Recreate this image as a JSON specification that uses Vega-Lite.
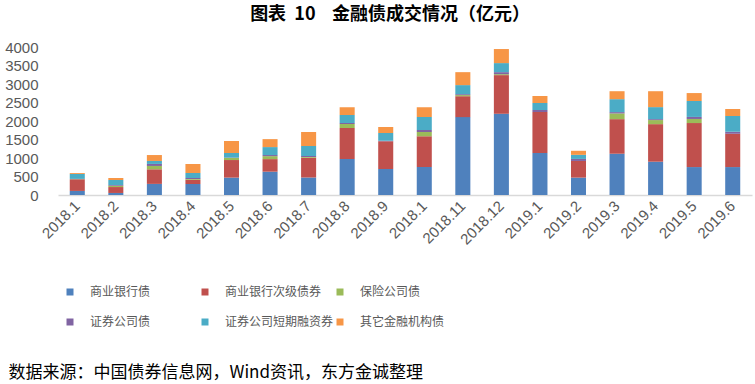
{
  "$schema": "https://vega.github.io/schema/vega-lite/v6.json",
  "autosize": "none",
  "width": 694,
  "height": 148,
  "padding": {"left": 58, "top": 47, "right": 3, "bottom": 189},
  "background": "white",
  "title": {
    "text": "图表\u00a0\u00a010\u00a0\u00a0\u00a0\u00a0金融债成交情况（亿元）",
    "anchor": "middle",
    "frame": "group",
    "dx": -15,
    "offset": 16,
    "font": "Noto Sans CJK SC",
    "fontSize": 18,
    "fontWeight": "bold",
    "color": "#000000"
  },
  "config": {
    "view": {"stroke": null},
    "font": "Noto Sans CJK SC"
  },
  "datasets": {
    "rows": [
      {"month": "2018.1", "series": "商业银行债", "k": 1, "value": 110},
      {"month": "2018.1", "series": "商业银行次级债券", "k": 2, "value": 315},
      {"month": "2018.1", "series": "保险公司债", "k": 3, "value": 5},
      {"month": "2018.1", "series": "证券公司债", "k": 4, "value": 5},
      {"month": "2018.1", "series": "证券公司短期融资券", "k": 5, "value": 135},
      {"month": "2018.1", "series": "其它金融机构债", "k": 6, "value": 25},

      {"month": "2018.2", "series": "商业银行债", "k": 1, "value": 55},
      {"month": "2018.2", "series": "商业银行次级债券", "k": 2, "value": 160},
      {"month": "2018.2", "series": "保险公司债", "k": 3, "value": 35},
      {"month": "2018.2", "series": "证券公司债", "k": 4, "value": 20},
      {"month": "2018.2", "series": "证券公司短期融资券", "k": 5, "value": 135},
      {"month": "2018.2", "series": "其它金融机构债", "k": 6, "value": 55},

      {"month": "2018.3", "series": "商业银行债", "k": 1, "value": 300},
      {"month": "2018.3", "series": "商业银行次级债券", "k": 2, "value": 395},
      {"month": "2018.3", "series": "保险公司债", "k": 3, "value": 90},
      {"month": "2018.3", "series": "证券公司债", "k": 4, "value": 55},
      {"month": "2018.3", "series": "证券公司短期融资券", "k": 5, "value": 80},
      {"month": "2018.3", "series": "其它金融机构债", "k": 6, "value": 160},

      {"month": "2018.4", "series": "商业银行债", "k": 1, "value": 300},
      {"month": "2018.4", "series": "商业银行次级债券", "k": 2, "value": 110},
      {"month": "2018.4", "series": "保险公司债", "k": 3, "value": 25},
      {"month": "2018.4", "series": "证券公司债", "k": 4, "value": 25},
      {"month": "2018.4", "series": "证券公司短期融资券", "k": 5, "value": 135},
      {"month": "2018.4", "series": "其它金融机构债", "k": 6, "value": 245},

      {"month": "2018.5", "series": "商业银行债", "k": 1, "value": 470},
      {"month": "2018.5", "series": "商业银行次级债券", "k": 2, "value": 475},
      {"month": "2018.5", "series": "保险公司债", "k": 3, "value": 55},
      {"month": "2018.5", "series": "证券公司债", "k": 4, "value": 10},
      {"month": "2018.5", "series": "证券公司短期融资券", "k": 5, "value": 125},
      {"month": "2018.5", "series": "其它金融机构债", "k": 6, "value": 325},

      {"month": "2018.6", "series": "商业银行债", "k": 1, "value": 630},
      {"month": "2018.6", "series": "商业银行次级债券", "k": 2, "value": 340},
      {"month": "2018.6", "series": "保险公司债", "k": 3, "value": 80},
      {"month": "2018.6", "series": "证券公司债", "k": 4, "value": 30},
      {"month": "2018.6", "series": "证券公司短期融资券", "k": 5, "value": 215},
      {"month": "2018.6", "series": "其它金融机构债", "k": 6, "value": 215},

      {"month": "2018.7", "series": "商业银行债", "k": 1, "value": 470},
      {"month": "2018.7", "series": "商业银行次级债券", "k": 2, "value": 540},
      {"month": "2018.7", "series": "保险公司债", "k": 3, "value": 20},
      {"month": "2018.7", "series": "证券公司债", "k": 4, "value": 25},
      {"month": "2018.7", "series": "证券公司短期融资券", "k": 5, "value": 270},
      {"month": "2018.7", "series": "其它金融机构债", "k": 6, "value": 380},

      {"month": "2018.8", "series": "商业银行债", "k": 1, "value": 970},
      {"month": "2018.8", "series": "商业银行次级债券", "k": 2, "value": 840},
      {"month": "2018.8", "series": "保险公司债", "k": 3, "value": 110},
      {"month": "2018.8", "series": "证券公司债", "k": 4, "value": 25},
      {"month": "2018.8", "series": "证券公司短期融资券", "k": 5, "value": 215},
      {"month": "2018.8", "series": "其它金融机构债", "k": 6, "value": 215},

      {"month": "2018.9", "series": "商业银行债", "k": 1, "value": 700},
      {"month": "2018.9", "series": "商业银行次级债券", "k": 2, "value": 750},
      {"month": "2018.9", "series": "保险公司债", "k": 3, "value": 5},
      {"month": "2018.9", "series": "证券公司债", "k": 4, "value": 10},
      {"month": "2018.9", "series": "证券公司短期融资券", "k": 5, "value": 210},
      {"month": "2018.9", "series": "其它金融机构债", "k": 6, "value": 165},

      {"month": "2018.10", "series": "商业银行债", "k": 1, "value": 755},
      {"month": "2018.10", "series": "商业银行次级债券", "k": 2, "value": 835},
      {"month": "2018.10", "series": "保险公司债", "k": 3, "value": 110},
      {"month": "2018.10", "series": "证券公司债", "k": 4, "value": 55},
      {"month": "2018.10", "series": "证券公司短期融资券", "k": 5, "value": 350},
      {"month": "2018.10", "series": "其它金融机构债", "k": 6, "value": 270},

      {"month": "2018.11", "series": "商业银行债", "k": 1, "value": 2105},
      {"month": "2018.11", "series": "商业银行次级债券", "k": 2, "value": 565},
      {"month": "2018.11", "series": "保险公司债", "k": 3, "value": 30},
      {"month": "2018.11", "series": "证券公司债", "k": 4, "value": 25},
      {"month": "2018.11", "series": "证券公司短期融资券", "k": 5, "value": 245},
      {"month": "2018.11", "series": "其它金融机构债", "k": 6, "value": 350},

      {"month": "2018.12", "series": "商业银行债", "k": 1, "value": 2195},
      {"month": "2018.12", "series": "商业银行次级债券", "k": 2, "value": 1045},
      {"month": "2018.12", "series": "保险公司债", "k": 3, "value": 25},
      {"month": "2018.12", "series": "证券公司债", "k": 4, "value": 55},
      {"month": "2018.12", "series": "证券公司短期融资券", "k": 5, "value": 245},
      {"month": "2018.12", "series": "其它金融机构债", "k": 6, "value": 380},

      {"month": "2019.1", "series": "商业银行债", "k": 1, "value": 1135},
      {"month": "2019.1", "series": "商业银行次级债券", "k": 2, "value": 1105},
      {"month": "2019.1", "series": "保险公司债", "k": 3, "value": 0},
      {"month": "2019.1", "series": "证券公司债", "k": 4, "value": 55},
      {"month": "2019.1", "series": "证券公司短期融资券", "k": 5, "value": 190},
      {"month": "2019.1", "series": "其它金融机构债", "k": 6, "value": 190},

      {"month": "2019.2", "series": "商业银行债", "k": 1, "value": 470},
      {"month": "2019.2", "series": "商业银行次级债券", "k": 2, "value": 450},
      {"month": "2019.2", "series": "保险公司债", "k": 3, "value": 0},
      {"month": "2019.2", "series": "证券公司债", "k": 4, "value": 55},
      {"month": "2019.2", "series": "证券公司短期融资券", "k": 5, "value": 110},
      {"month": "2019.2", "series": "其它金融机构债", "k": 6, "value": 110},

      {"month": "2019.3", "series": "商业银行债", "k": 1, "value": 1115},
      {"month": "2019.3", "series": "商业银行次级债券", "k": 2, "value": 935},
      {"month": "2019.3", "series": "保险公司债", "k": 3, "value": 155},
      {"month": "2019.3", "series": "证券公司债", "k": 4, "value": 35},
      {"month": "2019.3", "series": "证券公司短期融资券", "k": 5, "value": 350},
      {"month": "2019.3", "series": "其它金融机构债", "k": 6, "value": 215},

      {"month": "2019.4", "series": "商业银行债", "k": 1, "value": 900},
      {"month": "2019.4", "series": "商业银行次级债券", "k": 2, "value": 1015},
      {"month": "2019.4", "series": "保险公司债", "k": 3, "value": 110},
      {"month": "2019.4", "series": "证券公司债", "k": 4, "value": 25},
      {"month": "2019.4", "series": "证券公司短期融资券", "k": 5, "value": 325},
      {"month": "2019.4", "series": "其它金融机构债", "k": 6, "value": 430},

      {"month": "2019.5", "series": "商业银行债", "k": 1, "value": 755},
      {"month": "2019.5", "series": "商业银行次级债券", "k": 2, "value": 1190},
      {"month": "2019.5", "series": "保险公司债", "k": 3, "value": 110},
      {"month": "2019.5", "series": "证券公司债", "k": 4, "value": 55},
      {"month": "2019.5", "series": "证券公司短期融资券", "k": 5, "value": 430},
      {"month": "2019.5", "series": "其它金融机构债", "k": 6, "value": 215},

      {"month": "2019.6", "series": "商业银行债", "k": 1, "value": 755},
      {"month": "2019.6", "series": "商业银行次级债券", "k": 2, "value": 900},
      {"month": "2019.6", "series": "保险公司债", "k": 3, "value": 0},
      {"month": "2019.6", "series": "证券公司债", "k": 4, "value": 55},
      {"month": "2019.6", "series": "证券公司短期融资券", "k": 5, "value": 425},
      {"month": "2019.6", "series": "其它金融机构债", "k": 6, "value": 190}
    ]
  },
  "data": {"name": "rows"},
  "mark": {"type": "bar"},
  "encoding": {
    "x": {
      "field": "month",
      "type": "ordinal",
      "sort": null,
      "scale": {"paddingInner": 0.61, "paddingOuter": 0.305},
      "axis": {
        "title": "数据来源：中国债券信息网，Wind资讯，东方金诚整理",
        "titleFont": "Noto Sans CJK SC",
        "titleFontSize": 17,
        "titleFontWeight": "normal",
        "titleColor": "#000000",
        "titleAnchor": "start",
        "titleAlign": "left",
        "titleBaseline": "middle",
        "titleX": -50,
        "titleY": 177,
        "labelExpr": "datum.value == '2018.10' ? '2018.1' : datum.value",
        "labelAngle": -45,
        "labelAlign": "right",
        "labelBaseline": "middle",
        "labelFont": "Liberation Sans",
        "labelFontSize": 15,
        "labelColor": "#595959",
        "labelPadding": 8,
        "ticks": false,
        "domainColor": "#D9D9D9",
        "domainWidth": 1.5,
        "grid": false
      }
    },
    "y": {
      "field": "value",
      "type": "quantitative",
      "stack": "zero",
      "scale": {"domain": [0, 4000], "nice": false},
      "axis": {
        "title": null,
        "values": [0, 500, 1000, 1500, 2000, 2500, 3000, 3500, 4000],
        "format": "d",
        "labelFont": "Liberation Sans",
        "labelFontSize": 15,
        "labelColor": "#595959",
        "labelPadding": 20,
        "ticks": false,
        "domain": false,
        "grid": false
      }
    },
    "color": {
      "field": "series",
      "type": "nominal",
      "scale": {
        "domain": ["商业银行债", "证券公司债", "商业银行次级债券", "证券公司短期融资券", "保险公司债", "其它金融机构债"],
        "range": ["#4F81BD", "#8064A2", "#C0504D", "#4BACC6", "#9BBB59", "#F79646"]
      },
      "legend": {
        "title": null,
        "orient": "none",
        "legendX": 6,
        "legendY": 239,
        "columns": 3,
        "gridAlign": "all",
        "columnPadding": -3,
        "rowPadding": 18,
        "symbolType": "square",
        "symbolSize": 49,
        "symbolStrokeWidth": 0,
        "labelOffset": 14,
        "labelFont": "Noto Sans CJK SC",
        "labelFontSize": 12,
        "labelColor": "#595959",
        "labelLimit": 200,
        "padding": 0
      }
    },
    "order": {"field": "k", "type": "quantitative", "sort": "ascending"}
  }
}
